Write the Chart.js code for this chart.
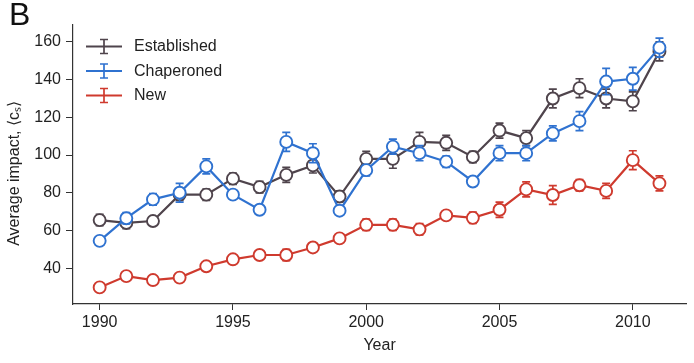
<!DOCTYPE html>
<html lang="en">
<head>
    <meta charset="UTF-8">
    <title>Average impact by year</title>
    <style>
        html, body { margin: 0; padding: 0; background: #fff; }
        #wrap { width: 694px; height: 363px; }
    </style>
</head>
<body>
    <div id="wrap"><canvas id="impactChart" width="694" height="363"></canvas></div>

    <script src="https://cdn.jsdelivr.net/npm/chart.js"></script>
    <script>
        const years = [1990, 1991, 1992, 1993, 1994, 1995, 1996, 1997, 1998, 1999, 2000,
                       2001, 2002, 2003, 2004, 2005, 2006, 2007, 2008, 2009, 2010, 2011];

        const established    = [65.5, 64, 65, 79, 79, 87.5, 83, 89.5, 94.5, 78, 98,
                                98, 107, 106.5, 99, 113, 109, 130, 135.5, 130, 128.5, 155];
        const establishedErr = [3, 3, 2, 3, 3, 3, 3, 4, 4, 3, 4,
                                5, 5, 4, 3, 4, 4, 5, 5, 5, 5, 5];

        const chaperoned    = [54.5, 66.5, 76.5, 80, 94, 79, 71, 107, 101, 70.5, 92,
                               104.5, 101, 96.5, 86, 101, 101, 111.5, 118, 139, 140.5, 157];
        const chaperonedErr = [1.5, 3, 3, 5, 4, 2, 2, 5, 5, 2, 3,
                               4, 4, 3, 2, 4, 4, 4, 5, 7, 6, 5];

        const newcomers    = [29.8, 35.8, 33.7, 35, 41, 44.7, 47, 47, 51, 55.8, 63,
                              63, 60.6, 68, 66.7, 71, 81.8, 78.8, 84, 81, 97.3, 85];
        const newcomersErr = [1, 2, 1.5, 1.5, 2, 1.5, 2, 3, 2, 2, 3,
                              3, 3, 2, 3, 4, 4, 5, 3, 4, 5, 4];

        const yTicks = [40, 60, 80, 100, 120, 140, 160];
        const xTicks = [1990, 1995, 2000, 2005, 2010];

        const seriesNames = ['Established', 'Chaperoned', 'New'];
        const colors = ['#4f444c', '#2f72d0', '#cf3a2e'];

        const FONT = "'Liberation Sans', Arial, sans-serif";
        const TEXT = '#222';

        function points(vals) {
            return years.map((y, i) => ({ x: y, y: vals[i] }));
        }

        function makeSet(i, vals, errs, order) {
            return {
                label: seriesNames[i],
                data: points(vals),
                errors: errs,
                borderColor: colors[i],
                backgroundColor: '#fff',
                borderWidth: 2.2,
                pointRadius: 6,
                pointBorderWidth: 1.9,
                pointBackgroundColor: '#fff',
                pointBorderColor: colors[i],
                tension: 0,
                order: order
            };
        }

        // error bars, drawn just before each dataset so the white points sit on top
        const errorBars = {
            id: 'errorBars',
            beforeDatasetDraw(chart, args) {
                const ds = chart.data.datasets[args.index];
                const yScale = chart.scales.y;
                const ctx = chart.ctx;
                ctx.save();
                ctx.strokeStyle = ds.borderColor;
                ctx.lineWidth = 1.7;
                args.meta.data.forEach((pt, i) => {
                    const v = ds.data[i].y;
                    const e = ds.errors[i];
                    const top = yScale.getPixelForValue(v + e);
                    const bot = yScale.getPixelForValue(v - e);
                    ctx.beginPath();
                    ctx.moveTo(pt.x, top);
                    ctx.lineTo(pt.x, bot);
                    ctx.moveTo(pt.x - 4, top);
                    ctx.lineTo(pt.x + 4, top);
                    ctx.moveTo(pt.x - 4, bot);
                    ctx.lineTo(pt.x + 4, bot);
                    ctx.stroke();
                });
                ctx.restore();
            }
        };

        // legend with error-bar symbols, plus the panel letter
        const extras = {
            id: 'extras',
            afterDraw(chart) {
                const ctx = chart.ctx;
                ctx.save();
                const rows = [46.5, 71, 95.5];
                rows.forEach((ry, i) => {
                    ctx.strokeStyle = colors[i];
                    ctx.lineWidth = 2.2;
                    ctx.beginPath();
                    ctx.moveTo(86, ry);
                    ctx.lineTo(122, ry);
                    ctx.stroke();
                    ctx.lineWidth = 1.7;
                    ctx.beginPath();
                    ctx.moveTo(104, ry - 7);
                    ctx.lineTo(104, ry + 7);
                    ctx.moveTo(100, ry - 7);
                    ctx.lineTo(108, ry - 7);
                    ctx.moveTo(100, ry + 7);
                    ctx.lineTo(108, ry + 7);
                    ctx.stroke();
                    ctx.fillStyle = TEXT;
                    ctx.font = '16px ' + FONT;
                    ctx.textBaseline = 'middle';
                    ctx.textAlign = 'left';
                    ctx.fillText(seriesNames[i], 134, ry + 0.5);
                });
                ctx.fillStyle = '#111';
                ctx.font = '32px ' + FONT;
                ctx.textBaseline = 'alphabetic';
                ctx.fillText('B', 9, 25);
                ctx.restore();
            }
        };

        const ctx = document.getElementById('impactChart').getContext('2d');
        const impactChart = new Chart(ctx, {
            type: 'line',
            data: {
                datasets: [
                    makeSet(0, established, establishedErr, 2),
                    makeSet(1, chaperoned, chaperonedErr, 1),
                    makeSet(2, newcomers, newcomersErr, 3)
                ]
            },
            options: {
                responsive: false,
                animation: false,
                layout: { padding: { top: 25, right: 3, left: 0, bottom: 0 } },
                plugins: {
                    legend: { display: false },
                    tooltip: { enabled: false }
                },
                scales: {
                    x: {
                        type: 'linear',
                        min: 1989,
                        max: 2012,
                        afterBuildTicks: s => { s.ticks = xTicks.map(v => ({ value: v })); },
                        afterFit: s => { s.height = 59; },
                        grid: { drawOnChartArea: false, drawTicks: true, tickLength: 6, color: '#333' },
                        border: { display: true, color: '#333', width: 1.2 },
                        ticks: {
                            color: TEXT,
                            font: { family: FONT, size: 16 },
                            padding: 3,
                            maxRotation: 0,
                            callback: v => String(v)
                        },
                        title: {
                            display: true,
                            text: 'Year',
                            color: TEXT,
                            font: { family: FONT, size: 16 },
                            padding: { top: 0, bottom: 8 }
                        }
                    },
                    y: {
                        min: 21,
                        max: 169,
                        afterBuildTicks: s => { s.ticks = yTicks.map(v => ({ value: v })); },
                        afterFit: s => { s.width = 73; },
                        grid: { drawOnChartArea: false, drawTicks: true, tickLength: 7, color: '#333' },
                        border: { display: true, color: '#333', width: 1.2 },
                        ticks: {
                            color: TEXT,
                            font: { family: FONT, size: 16 },
                            padding: 5
                        },
                        title: {
                            display: true,
                            // trailing no-break spaces nudge the rotated title down a little
                            text: 'Average impact, \u27E8c\u209B\u27E9\u00A0\u00A0\u00A0\u00A0',
                            color: TEXT,
                            font: { family: FONT, size: 16 },
                            padding: { top: 5, bottom: 0 }
                        }
                    }
                }
            },
            plugins: [errorBars, extras]
        });
    </script>
</body>
</html>
